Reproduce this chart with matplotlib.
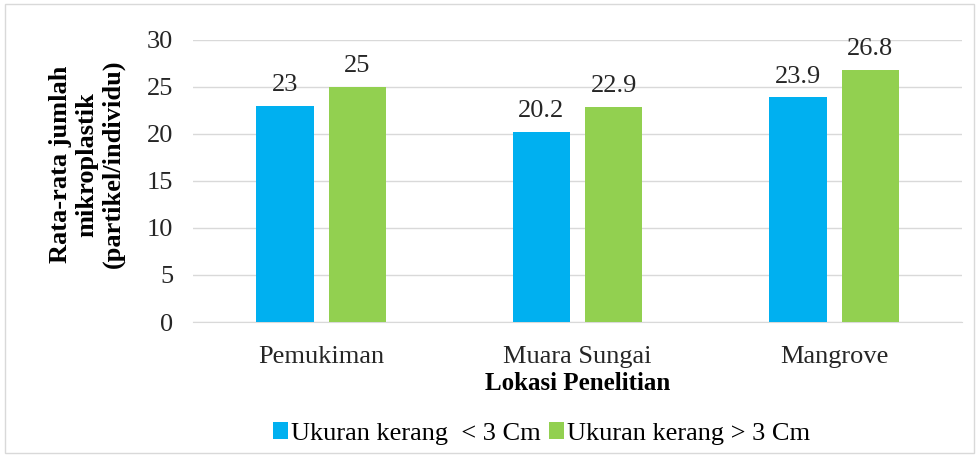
import numpy as np
import matplotlib.pyplot as plt
from matplotlib.patches import Rectangle

plt.rcParams['font.family'] = ['Liberation Serif', 'DejaVu Serif']

lokasi = ['Pemukiman', 'Muara Sungai', 'Mangrove']
kecil = [23, 20.2, 23.9]      # Ukuran kerang < 3 Cm
besar = [25, 22.9, 26.8]      # Ukuran kerang > 3 Cm
label_kecil = 'Ukuran kerang  < 3 Cm'
label_besar = 'Ukuran kerang > 3 Cm'

fig = plt.figure(figsize=(9.79, 4.57), dpi=100)
ax = fig.add_axes([0.197, 0.2954, 0.786, 0.6171])

x = np.arange(len(lokasi))
w = 0.223
off = 0.141
b1 = ax.bar(x - off, kecil, w, color='#00b0f0', label=label_kecil, zorder=3)
b2 = ax.bar(x + off, besar, w, color='#92d050', label=label_besar, zorder=3)

for bars, vals in [(b1, kecil), (b2, besar)]:
    for r, v in zip(bars, vals):
        ax.annotate(f'{v:g}', (r.get_x() + r.get_width() / 2, v),
                    xytext=(0, 7), textcoords='offset points',
                    ha='center', va='bottom', fontsize=19, color='#262626')

ax.set_xlim(-0.5, 2.5)
ax.set_ylim(0, 30)
ax.set_yticks(range(0, 31, 5))
ax.set_xticks(x)
ax.set_xticklabels(lokasi)
ax.tick_params(axis='both', length=0, labelsize=19, colors='#262626')
ax.tick_params(axis='x', pad=17)
ax.tick_params(axis='y', pad=14)
ax.yaxis.grid(True, color='#d9d9d9', linewidth=1, zorder=0)
for s in ['top', 'right', 'left']:
    ax.spines[s].set_visible(False)
ax.spines['bottom'].set_color('#d9d9d9')

ax.set_xlabel('Lokasi Penelitian', fontsize=18, fontweight='bold', labelpad=3)
ax.set_ylabel('Rata-rata jumlah\nmikroplastik\n(partikel/individu)',
              fontsize=19, fontweight='bold', linespacing=1.2)
ax.yaxis.set_label_coords(-0.088, 0.56)

fig.legend(loc='lower center', bbox_to_anchor=(0.553, -0.026), ncol=2, frameon=False,
           fontsize=19, handlelength=0.6, handleheight=0.6, handletextpad=0.1,
           columnspacing=0.3)

fig.patches.append(Rectangle((0.005, 0.008), 0.99, 0.984, transform=fig.transFigure,
                             fill=False, edgecolor='#d9d9d9', linewidth=1))

fig.savefig('out.png', dpi=100)
